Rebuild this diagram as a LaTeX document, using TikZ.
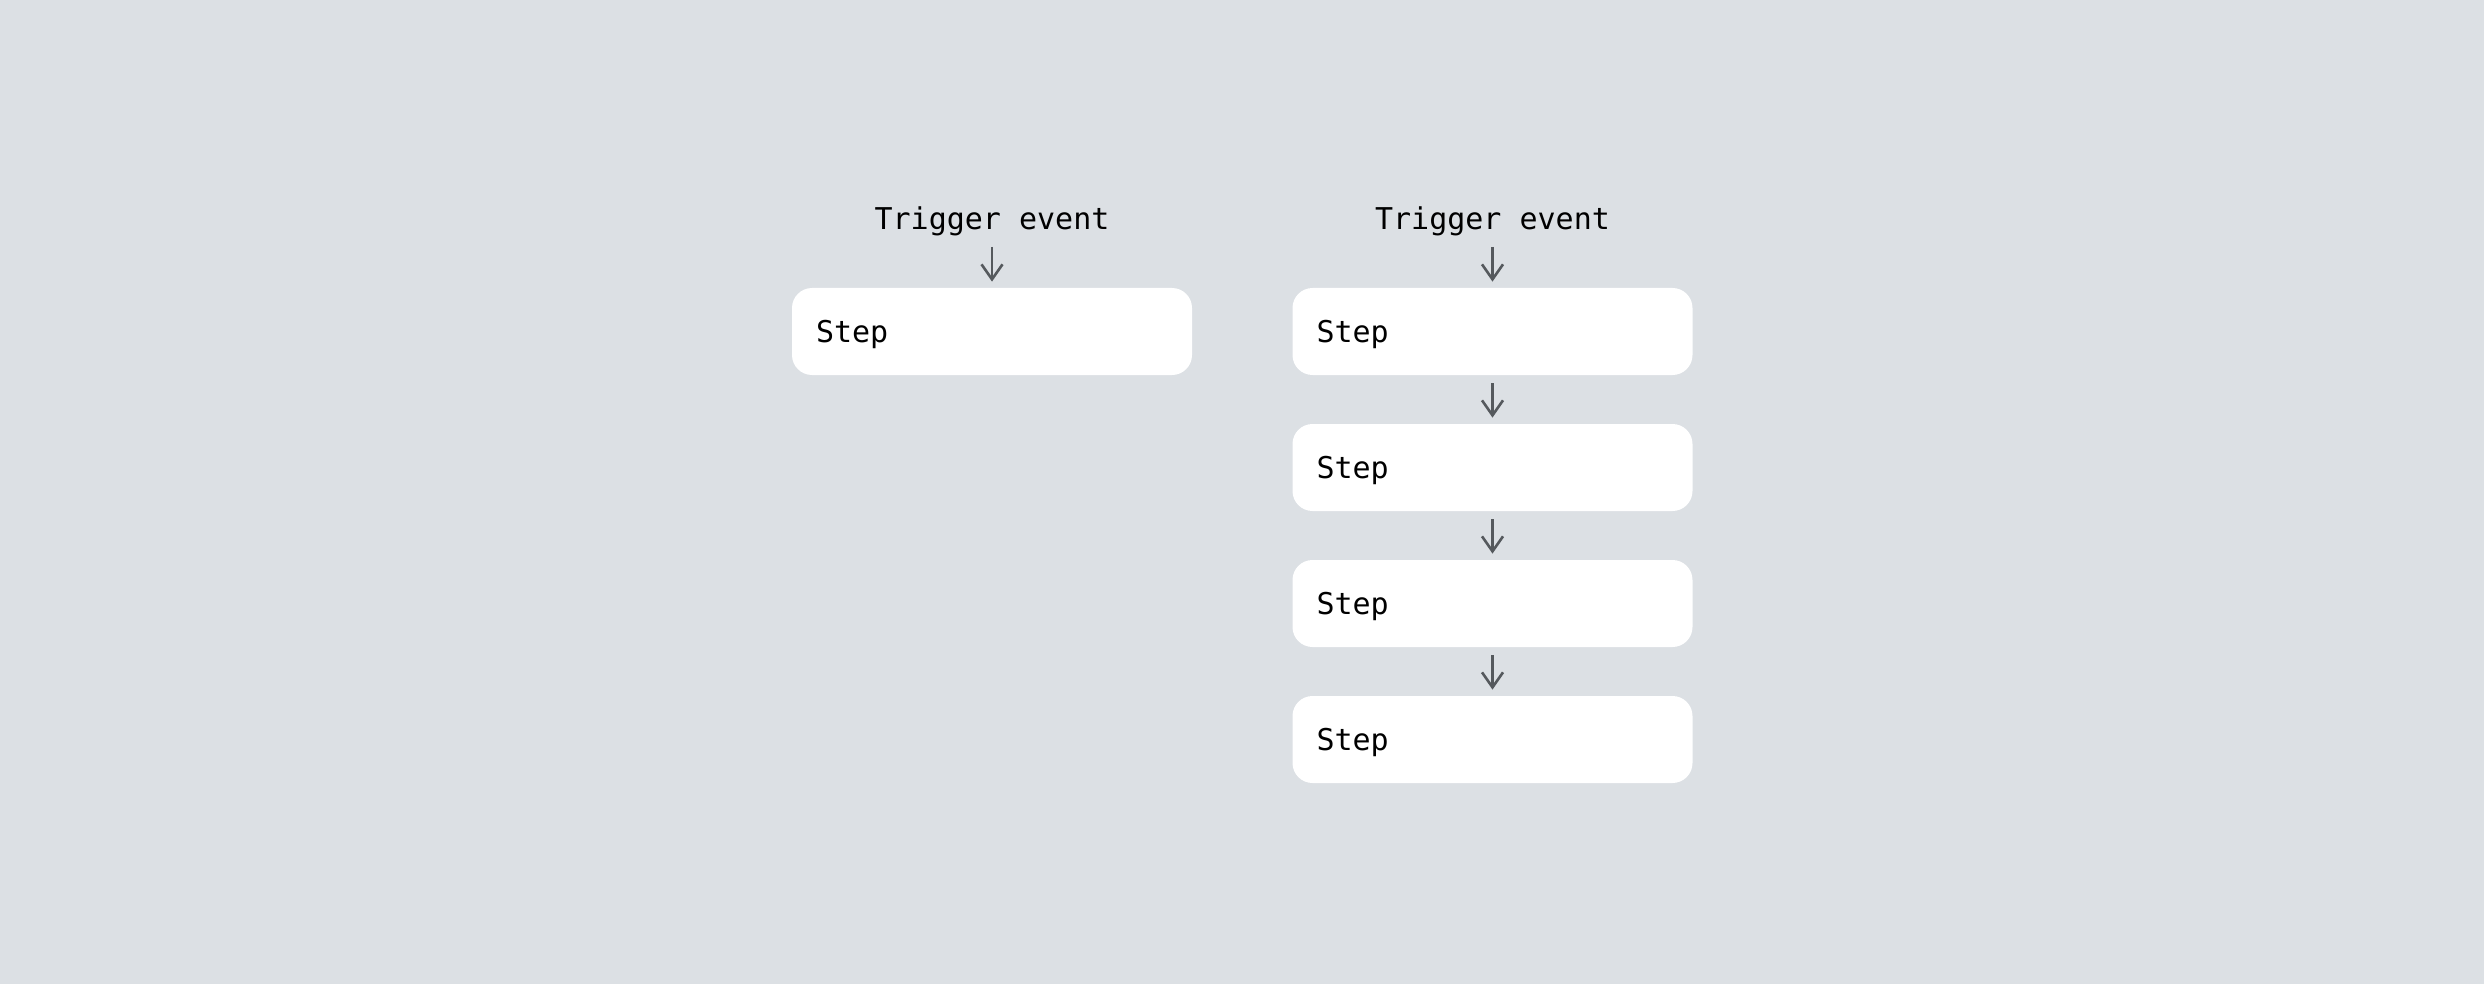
\documentclass[tikz,border=0pt]{standalone}
\usepackage{fontspec}
\setmonofont{DejaVu Sans Mono}
\usepackage{tikz}
\usetikzlibrary{arrows.meta}
\definecolor{bgcol}{HTML}{DCE0E4}
\definecolor{arrcol}{HTML}{55595D}
\tikzstyle{stepbox} = [rectangle, rounded corners=10pt, fill=white, minimum width=200pt, minimum height=43.5pt, text width=176pt, inner xsep=12pt, inner ysep=0pt, align=left, text height=10.9pt, text depth=0pt, font=\fontsize{15}{18}\selectfont\ttfamily]
\tikzstyle{trig} = [inner sep=0pt, anchor=base, font=\fontsize{15}{18}\selectfont\ttfamily]
\tikzstyle{flow} = [-{Straight Barb[length=7.5pt,width=10.5pt]}, draw=arrcol, line width=1.3pt, shorten >=3pt]

\begin{document}
\begin{tikzpicture}
  \fill [bgcol] (0,0) rectangle (1242pt,-492pt);

  \node (a) at (496pt,-115pt) [trig] {Trigger event};
  \node (b) at (496pt,-165.75pt) [stepbox] {Step};

  \node (c) at (746.25pt,-115pt) [trig] {Trigger event};
  \node (d) at (746.25pt,-165.75pt) [stepbox] {Step};
  \node (e) at (746.25pt,-233.75pt) [stepbox] {Step};
  \node (f) at (746.25pt,-301.75pt) [stepbox] {Step};
  \node (g) at (746.25pt,-369.75pt) [stepbox] {Step};

  \draw [flow, shorten <=5pt] (a) -- (b);
  \draw [flow, shorten <=5pt] (c) -- (d);
  \draw [flow, shorten <=4pt] (d) -- (e);
  \draw [flow, shorten <=4pt] (e) -- (f);
  \draw [flow, shorten <=4pt] (f) -- (g);
\end{tikzpicture}
\end{document}
